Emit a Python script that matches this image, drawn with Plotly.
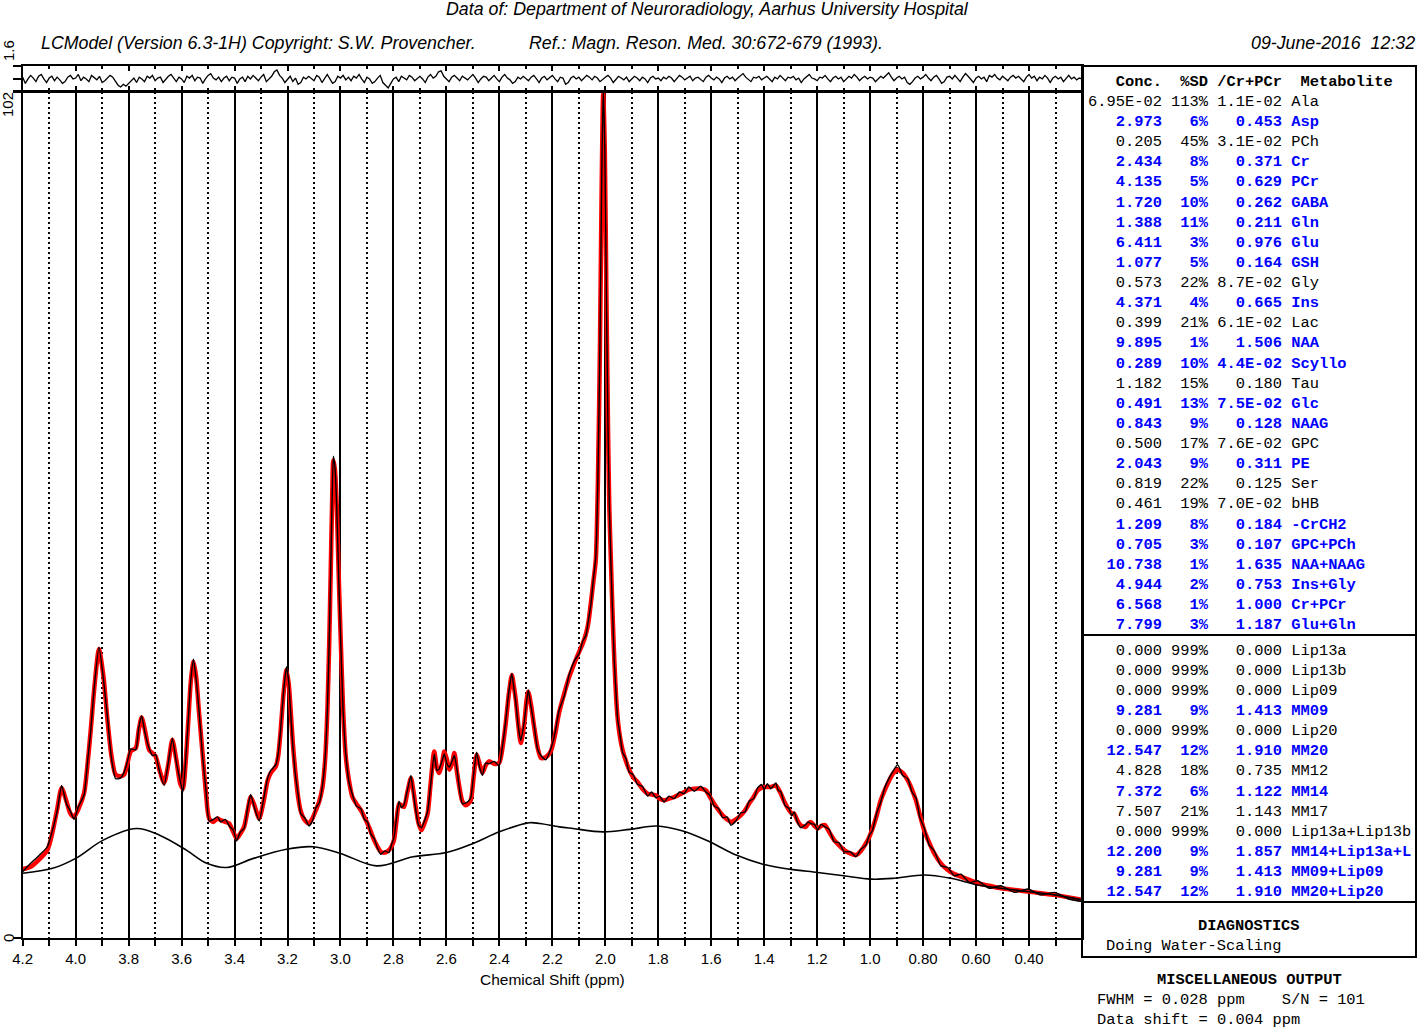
import numpy as np
import plotly.graph_objects as go

W, H = 1418, 1028

# ---------------- spectrum data (ppm, arbitrary units) ----------------
PPM = [
    4.20, 4.17, 4.14, 4.107, 4.09, 4.07, 4.053, 4.035, 4.02, 4.006,
    3.99, 3.968, 3.955, 3.943, 3.93, 3.912, 3.895, 3.88, 3.865, 3.849,
    3.83, 3.817, 3.805, 3.792, 3.773, 3.762, 3.751, 3.738, 3.723, 3.71,
    3.698, 3.683, 3.666, 3.65, 3.635, 3.62, 3.605, 3.595, 3.585, 3.575,
    3.565, 3.555, 3.545, 3.535, 3.521, 3.508, 3.496, 3.48, 3.465, 3.452,
    3.435, 3.42, 3.405, 3.392, 3.378, 3.364, 3.35, 3.339, 3.325, 3.307,
    3.29, 3.275, 3.263, 3.244, 3.235, 3.226, 3.215, 3.204, 3.195, 3.189,
    3.18, 3.17, 3.16, 3.15, 3.135, 3.119, 3.105, 3.093, 3.08, 3.068,
    3.058, 3.049, 3.043, 3.037, 3.032, 3.027, 3.021, 3.014, 3.007, 2.999,
    2.99, 2.98, 2.968, 2.955, 2.94, 2.923, 2.91, 2.898, 2.885, 2.873,
    2.86, 2.848, 2.832, 2.817, 2.808, 2.798, 2.789, 2.779, 2.77, 2.76,
    2.748, 2.734, 2.725, 2.716, 2.705, 2.694, 2.683, 2.671, 2.66, 2.646,
    2.636, 2.627, 2.617, 2.608, 2.598, 2.589, 2.579, 2.57, 2.56, 2.551,
    2.54, 2.527, 2.517, 2.508, 2.497, 2.486, 2.475, 2.464, 2.452, 2.439,
    2.42, 2.401, 2.388, 2.376, 2.364, 2.353, 2.346, 2.338, 2.328, 2.319,
    2.306, 2.298, 2.291, 2.28, 2.269, 2.256, 2.243, 2.225, 2.206, 2.19,
    2.175, 2.155, 2.136, 2.117, 2.099, 2.085, 2.073, 2.064, 2.055, 2.045,
    2.036, 2.028, 2.02, 2.014, 2.008, 2.002, 1.996, 1.99, 1.985, 1.979,
    1.972, 1.966, 1.96, 1.954, 1.945, 1.935, 1.922, 1.91, 1.895, 1.878,
    1.86, 1.84, 1.825, 1.809, 1.795, 1.778, 1.76, 1.74, 1.72, 1.702,
    1.685, 1.664, 1.64, 1.62, 1.605, 1.589, 1.572, 1.557, 1.54, 1.526,
    1.507, 1.488, 1.472, 1.457, 1.44, 1.425, 1.41, 1.4, 1.388, 1.375,
    1.356, 1.347, 1.337, 1.322, 1.306, 1.296, 1.287, 1.275, 1.262, 1.243,
    1.234, 1.224, 1.21, 1.198, 1.185, 1.171, 1.155, 1.136, 1.118, 1.098,
    1.075, 1.054, 1.035, 1.016, 1.003, 0.991, 0.975, 0.96, 0.944, 0.928,
    0.912, 0.896, 0.877, 0.858, 0.842, 0.827, 0.812, 0.796, 0.777, 0.758,
    0.733, 0.707, 0.682, 0.657, 0.625, 0.594, 0.55, 0.506, 0.455, 0.405,
    0.355, 0.304, 0.25, 0.2,
]

FIT = [
    8.3, 8.6, 9.4, 10.6, 12.4, 15.5, 18.1, 16.5, 15.0, 14.6,
    15.5, 17.5, 21.0, 25.1, 30.0, 34.8, 31.5, 26.3, 22.0, 19.7,
    19.5, 19.7, 21.0, 22.5, 22.9, 25.0, 26.6, 25.0, 22.7, 22.3,
    21.9, 20.2, 18.7, 21.0, 23.9, 21.5, 18.6, 18.0, 21.0, 26.0,
    31.0, 33.3, 31.5, 27.5, 22.3, 17.5, 14.4, 14.0, 14.4, 14.2,
    14.0, 13.8, 12.8, 12.0, 12.6, 13.4, 15.5, 17.0, 16.0, 14.4,
    16.5, 19.0, 19.9, 20.7, 22.0, 25.0, 29.5, 32.3, 30.5, 27.9,
    23.5, 19.9, 17.0, 15.3, 14.2, 13.8, 14.5, 15.4, 16.5, 18.2,
    21.5, 27.9, 35.0, 44.0, 52.0, 57.6, 56.5, 52.0, 44.0, 35.9,
    27.5, 21.9, 19.0, 17.0, 16.2, 15.4, 14.6, 13.8, 12.8, 11.8,
    11.0, 10.4, 10.3, 10.6, 11.0, 11.8, 14.0, 16.2, 16.0, 15.8,
    17.5, 19.3, 17.8, 15.8, 13.8, 13.0, 13.8, 15.0, 18.5, 22.5,
    20.5, 19.9, 21.0, 22.5, 21.5, 20.3, 21.0, 22.3, 20.0, 18.2,
    16.5, 16.0, 16.2, 16.6, 19.5, 22.1, 21.0, 19.9, 20.8, 21.3,
    21.0, 21.1, 23.0, 25.9, 29.5, 31.7, 30.5, 28.7, 25.5, 23.5,
    25.9, 28.5, 29.7, 28.0, 25.5, 23.0, 21.7, 21.8, 22.5, 24.5,
    27.1, 29.5, 31.5, 33.1, 34.5, 35.5, 36.7, 38.0, 40.3, 43.0,
    45.6, 55.0, 72.0, 90.0, 101.8, 95.0, 78.0, 62.0, 52.0, 45.6,
    38.5, 33.5, 29.5, 26.7, 24.3, 22.7, 21.3, 20.3, 19.4, 18.8,
    18.0, 17.4, 17.3, 17.2, 16.8, 16.6, 16.8, 17.0, 17.3, 17.6,
    17.9, 18.0, 18.0, 17.8, 17.0, 16.2, 15.4, 14.8, 14.3, 14.0,
    14.3, 14.8, 15.4, 16.2, 17.0, 17.8, 18.1, 18.2, 18.2, 18.2,
    18.4, 18.0, 17.4, 16.3, 15.4, 15.0, 15.0, 14.2, 13.6, 13.4,
    13.8, 14.0, 13.5, 13.2, 13.5, 13.6, 12.8, 11.8, 11.2, 10.6,
    10.2, 10.0, 10.5, 11.4, 12.2, 13.2, 14.8, 16.6, 17.9, 19.0,
    19.9, 20.3, 19.9, 19.0, 17.9, 16.6, 14.8, 13.0, 11.5, 10.2,
    9.0, 8.2, 7.7, 7.4, 7.0, 6.6, 6.3, 6.0, 5.8, 5.6,
    5.4, 5.2, 4.9, 4.6,
]

DATA = [
    8.0, 9.0, 9.9, 11.0, 12.7, 15.3, 18.4, 16.2, 15.3, 14.3,
    15.8, 17.3, 21.3, 25.0, 30.2, 35.1, 31.2, 26.6, 21.7, 19.2,
    19.3, 20.0, 21.2, 22.8, 22.7, 25.3, 26.8, 24.7, 22.9, 22.0,
    22.1, 20.0, 18.4, 21.2, 24.1, 21.2, 18.9, 17.6, 21.3, 26.2,
    31.2, 33.6, 31.2, 27.7, 22.0, 17.8, 14.1, 14.3, 14.6, 14.0,
    14.3, 13.5, 13.0, 11.7, 12.8, 13.2, 15.8, 17.3, 15.7, 14.1,
    16.8, 19.3, 20.2, 20.9, 22.3, 25.2, 29.7, 32.7, 30.7, 27.6,
    23.2, 19.6, 17.3, 15.0, 14.5, 13.5, 14.2, 15.7, 16.3, 18.4,
    21.7, 28.1, 35.3, 44.2, 52.4, 58.1, 56.8, 51.8, 43.7, 35.6,
    27.3, 22.2, 18.8, 17.3, 15.9, 15.6, 14.3, 14.0, 12.5, 12.0,
    10.8, 10.1, 10.5, 10.3, 11.2, 12.1, 14.3, 16.5, 15.7, 16.1,
    17.7, 19.6, 17.5, 15.5, 13.6, 13.3, 14.1, 15.3, 18.3, 22.2,
    20.2, 20.4, 21.3, 22.2, 21.0, 20.6, 21.3, 22.0, 20.3, 18.0,
    16.2, 16.3, 16.5, 16.9, 19.8, 22.4, 20.6, 19.6, 21.1, 21.0,
    21.3, 20.8, 23.2, 26.2, 29.8, 31.9, 30.3, 28.4, 25.3, 23.8,
    26.1, 28.3, 29.9, 27.8, 25.7, 22.8, 22.0, 21.5, 22.8, 24.7,
    27.4, 29.2, 31.8, 33.4, 34.3, 35.8, 36.5, 38.3, 40.1, 43.3,
    45.9, 55.3, 72.4, 90.3, 102.5, 95.3, 77.7, 61.8, 52.3, 45.3,
    38.7, 33.2, 29.8, 26.5, 24.6, 22.4, 21.6, 20.0, 19.7, 18.5,
    18.3, 17.1, 17.6, 16.9, 17.1, 16.4, 17.1, 16.8, 17.6, 17.4,
    18.2, 17.7, 18.3, 17.6, 17.2, 15.9, 15.6, 14.5, 14.6, 13.6,
    14.1, 15.1, 15.2, 16.5, 16.8, 18.1, 18.5, 17.9, 18.6, 18.0,
    18.7, 17.8, 17.6, 16.0, 15.6, 14.7, 15.2, 14.0, 13.3, 13.7,
    14.0, 13.8, 13.7, 13.0, 13.7, 13.4, 13.1, 11.6, 11.5, 10.4,
    10.4, 9.8, 10.7, 11.2, 12.4, 13.0, 15.1, 16.4, 18.2, 19.3,
    20.2, 20.9, 19.6, 19.2, 17.6, 16.9, 14.5, 13.3, 11.2, 10.5,
    8.7, 8.5, 7.5, 7.7, 6.7, 6.9, 6.0, 6.3, 5.5, 5.9,
    5.2, 5.5, 4.7, 4.4,
]

BASE_PPM = [4.2, 4.087, 4.0, 3.896, 3.771, 3.683, 3.582, 3.505, 3.43, 3.329,
            3.204, 3.104, 3.0, 2.864, 2.726, 2.6, 2.499, 2.4, 2.287, 2.247,
            2.174, 2.122, 2.009, 1.907, 1.807, 1.707, 1.606, 1.506, 1.405, 1.304,
            1.198, 1.1, 0.997, 0.909, 0.796, 0.695, 0.594, 0.506, 0.405, 0.305, 0.2]
BASELINE = [7.8, 8.4, 9.6, 11.8, 13.2, 12.4, 10.6, 9.0, 8.5, 9.6,
            10.7, 11.0, 10.2, 8.7, 9.8, 10.3, 11.4, 12.8, 13.9, 13.8,
            13.4, 13.2, 12.8, 13.1, 13.5, 12.9, 11.6, 10.0, 8.9, 8.3,
            7.9, 7.5, 7.1, 7.2, 7.6, 7.2, 6.4, 6.0, 5.6, 5.2, 4.6]

# residual (data - fit), sampled every 0.01 ppm from 4.20 to 0.20
RESID = [
    0.3, -0.4, 0.1, 0.5, 0.2, -0.2, 0.4, 0.6, 0.1, -0.3, 0.2, 0.4, -0.1, 0.3, 0.0, -0.4, -0.2, 0.3, 0.5, 0.1,
    0.2, 0.6, -0.1, 0.3, 0.1, -0.2, 0.5, 0.2, 0.0, 0.4, -0.3, -0.1, 0.2, 0.5, 0.3, -0.2, -0.6, -0.8, -0.5, -0.7,
    -0.4, -0.1, 0.2, -0.3, 0.3, 0.1, -0.2, 0.4, 0.2, 0.5, -0.1, 0.2, 0.3, -0.3, 0.1, 0.4, 0.6, 0.2, -0.2, 0.3,
    0.1, -0.3, 0.4, 0.2, 0.5, -0.1, 0.3, 0.2, -0.4, 0.1, 0.5, 0.7, 0.2, 0.0, 0.3, -0.2, 0.2, 0.4, -0.1, 0.3,
    0.2, -0.4, 0.1, 0.3, -0.2, 0.4, 0.1, 0.5, 0.2, -0.1, 0.3, 0.6, -0.2, 0.1, 0.4, 0.9, 1.1, 0.5, 0.2, -0.3,
    0.1, 0.4, -0.2, 0.2, -0.5, -0.3, 0.3, 0.1, 0.4, 0.2, -0.1, 0.5, 0.3, -0.3, 0.2, 0.6, 0.1, -0.4, -0.2, 0.4,
    0.2, 0.5, 0.0, 0.3, -0.1, 0.4, 0.2, 0.6, 0.1, -0.3, 0.3, 0.1, -0.4, -0.2, 0.2, 0.5, -0.3, -0.6, -0.9, -0.4,
    0.1, 0.3, -0.2, 0.4, 0.2, 0.0, 0.5, 0.3, -0.1, 0.2, 0.4, 0.1, -0.3, 0.3, 0.6, 0.2, 0.4, 0.9, 1.0, 0.4,
    0.1, -0.2, 0.3, 0.5, 0.2, -0.1, 0.4, 0.2, 0.0, 0.3, 0.6, 0.2, -0.3, 0.1, 0.4, 0.3, -0.1, 0.2, 0.5, 0.1,
    -0.2, 0.3, 0.6, 0.2, 0.0, -0.4, -0.2, 0.3, 0.1, 0.4, 0.2, -0.1, 0.3, 0.5, 0.1, -0.3, 0.2, 0.4, 0.0, 0.3,
    0.5, 0.1, -0.2, 0.3, 0.2, -0.5, -0.3, 0.2, 0.4, 0.1, 0.3, -0.1, 0.2, 0.5, 0.3, 0.0, 0.4, 0.2, -0.2, 0.1,
    0.3, 0.5, 0.2, -0.3, 0.1, 0.4, 0.2, 0.0, 0.3, -0.2, 0.1, 0.4, 0.2, -0.1, 0.3, 0.1, -0.3, 0.2, 0.4, 0.1,
    0.2, -0.1, 0.3, 0.1, 0.4, 0.2, -0.2, 0.1, 0.5, 0.3, 0.0, 0.2, 0.4, -0.1, 0.2, 0.3, 0.1, -0.2, 0.3, 0.5,
    0.2, 0.0, 0.3, 0.1, -0.3, 0.2, 0.4, 0.1, 0.3, -0.1, 0.2, 0.5, 0.7, 0.3, 0.1, -0.2, 0.3, 0.2, 0.4, 0.0,
    0.2, 0.4, 0.1, -0.2, 0.3, 0.1, 0.5, 0.2, -0.1, 0.3, 0.2, 0.4, 0.0, 0.2, -0.3, 0.1, 0.3, 0.6, 0.2, 0.1,
    -0.1, 0.3, 0.2, 0.5, 0.1, -0.2, 0.2, 0.4, 0.1, 0.3, -0.2, 0.1, 0.4, 0.2, 0.6, 0.3, -0.1, 0.2, 0.4, 0.1,
    0.3, 0.2, -0.2, 0.1, 0.4, 0.2, 0.5, 0.8, 0.3, -0.1, 0.2, 0.4, 0.1, 0.3, -0.3, -0.5, -0.2, 0.2, 0.4, 0.1,
    0.3, 0.6, 0.2, -0.1, 0.3, 0.5, 0.1, -0.4, -0.2, 0.3, 0.4, 0.1, 0.5, 0.2, -0.2, 0.3, 0.7, 0.4, 0.1, -0.3,
    0.2, 0.4, 0.1, 0.3, -0.2, 0.5, 0.3, 0.6, 0.2, 0.0, 0.4, 0.2, -0.1, 0.3, 0.5, 0.2, 0.4, 0.1, -0.2, 0.3,
    0.6, 0.2, 0.4, -0.1, 0.3, 0.1, 0.5, 0.2, -0.3, 0.2, 0.4, 0.1, 0.3, -0.2, 0.2, 0.5, 0.1, 0.3, 0.0, 0.2,
    0.1,
]
RESID_PPM = np.round(np.linspace(4.2, 0.2, len(RESID)), 3)

# ---------------- axis ticks ----------------
MAJOR_TICKS = [4.2, 4.0, 3.8, 3.6, 3.4, 3.2, 3.0, 2.8, 2.6, 2.4, 2.2, 2.0,
               1.8, 1.6, 1.4, 1.2, 1.0, 0.8, 0.6, 0.4]
TICK_LABELS = ["4.2", "4.0", "3.8", "3.6", "3.4", "3.2", "3.0", "2.8", "2.6", "2.4",
               "2.2", "2.0", "1.8", "1.6", "1.4", "1.2", "1.0", "0.80", "0.60", "0.40"]
MINOR_TICKS = [4.1, 3.9, 3.7, 3.5, 3.3, 3.1, 2.9, 2.7, 2.5, 2.3, 2.1, 1.9,
               1.7, 1.5, 1.3, 1.1, 0.9, 0.7, 0.5, 0.3]

# ---------------- table ----------------
MET_NAMES = ["Ala", "Asp", "PCh", "Cr", "PCr", "GABA", "Gln", "Glu", "GSH", "Gly",
             "Ins", "Lac", "NAA", "Scyllo", "Tau", "Glc", "NAAG", "GPC", "PE", "Ser",
             "bHB", "-CrCH2", "GPC+PCh", "NAA+NAAG", "Ins+Gly", "Cr+PCr", "Glu+Gln"]
MET_CONC = ["6.95E-02", "2.973", "0.205", "2.434", "4.135", "1.720", "1.388", "6.411", "1.077", "0.573",
            "4.371", "0.399", "9.895", "0.289", "1.182", "0.491", "0.843", "0.500", "2.043", "0.819",
            "0.461", "1.209", "0.705", "10.738", "4.944", "6.568", "7.799"]
MET_SD = ["113%", "6%", "45%", "8%", "5%", "10%", "11%", "3%", "5%", "22%",
          "4%", "21%", "1%", "10%", "15%", "13%", "9%", "17%", "9%", "22%",
          "19%", "8%", "3%", "1%", "2%", "1%", "3%"]
MET_RATIO = ["1.1E-02", "0.453", "3.1E-02", "0.371", "0.629", "0.262", "0.211", "0.976", "0.164", "8.7E-02",
             "0.665", "6.1E-02", "1.506", "4.4E-02", "0.180", "7.5E-02", "0.128", "7.6E-02", "0.311", "0.125",
             "7.0E-02", "0.184", "0.107", "1.635", "0.753", "1.000", "1.187"]
MET_BLUE = [0, 1, 0, 1, 1, 1, 1, 1, 1, 0,
            1, 0, 1, 1, 0, 1, 1, 0, 1, 0,
            0, 1, 1, 1, 1, 1, 1]

LIP_NAMES = ["Lip13a", "Lip13b", "Lip09", "MM09", "Lip20", "MM20", "MM12", "MM14", "MM17",
             "Lip13a+Lip13b", "MM14+Lip13a+L", "MM09+Lip09", "MM20+Lip20"]
LIP_CONC = ["0.000", "0.000", "0.000", "9.281", "0.000", "12.547", "4.828", "7.372", "7.507",
            "0.000", "12.200", "9.281", "12.547"]
LIP_SD = ["999%", "999%", "999%", "9%", "999%", "12%", "18%", "6%", "21%",
          "999%", "9%", "9%", "12%"]
LIP_RATIO = ["0.000", "0.000", "0.000", "1.413", "0.000", "1.910", "0.735", "1.122", "1.143",
             "0.000", "1.857", "1.413", "1.910"]
LIP_BLUE = [0, 0, 0, 1, 0, 1, 0, 1, 0, 0, 1, 1, 1]


def px(x):
    return x / W


def py(y):
    return 1 - y / H


fig = go.Figure()

fig.add_trace(go.Scatter(x=PPM, y=FIT, mode="lines",
                         line=dict(color="#ff0000", width=4.5, shape="spline", smoothing=0.7),
                         xaxis="x", yaxis="y", hoverinfo="skip"))
fig.add_trace(go.Scatter(x=BASE_PPM, y=BASELINE, mode="lines",
                         line=dict(color="black", width=1.6, shape="spline", smoothing=1.0),
                         xaxis="x", yaxis="y", hoverinfo="skip"))
fig.add_trace(go.Scatter(x=PPM, y=DATA, mode="lines",
                         line=dict(color="black", width=1.4, shape="spline", smoothing=0.5),
                         xaxis="x", yaxis="y", hoverinfo="skip"))
fig.add_trace(go.Scatter(x=RESID_PPM, y=RESID, mode="lines", line=dict(color="black", width=1.3),
                         xaxis="x2", yaxis="y2", hoverinfo="skip"))

XL, XR = 22.7, 1082
MAIN_TOP, MAIN_BOT = 92, 938
RES_TOP, RES_BOT = 66, 91

fig.update_layout(
    width=W, height=H, autosize=False,
    margin=dict(l=0, r=0, t=0, b=0, pad=0, autoexpand=False),
    paper_bgcolor="white", plot_bgcolor="white",
    showlegend=False,
    xaxis=dict(
        domain=[px(XL), px(XR)], range=[4.2, 0.2], anchor="y", automargin=False,
        tickmode="array", tickvals=MAJOR_TICKS, ticktext=TICK_LABELS,
        ticks="outside", ticklen=6, tickwidth=2, tickcolor="black",
        tickfont=dict(family="Liberation Sans", size=15, color="black"),
        showgrid=True, gridcolor="black", gridwidth=2,
        showline=True, linecolor="black", linewidth=2, mirror=True,
        zeroline=False, fixedrange=True,
        minor=dict(tickmode="array", tickvals=MINOR_TICKS, ticks="outside", ticklen=6,
                   tickwidth=2, tickcolor="black", showgrid=True, gridcolor="black",
                   gridwidth=2, griddash="2px,3px"),
    ),
    yaxis=dict(
        domain=[py(MAIN_BOT), py(MAIN_TOP)], range=[0, 102], anchor="x", automargin=False,
        tickmode="array", tickvals=[0, 102], showticklabels=False,
        ticks="outside", ticklen=8, tickwidth=2, tickcolor="black",
        showgrid=False, zeroline=False,
        showline=True, linecolor="black", linewidth=2, mirror=True, fixedrange=True,
    ),
    xaxis2=dict(
        domain=[px(XL), px(XR)], range=[4.2, 0.2], anchor="y2", automargin=False,
        tickmode="array", tickvals=MAJOR_TICKS, showticklabels=False,
        ticks="inside", ticklen=5, tickwidth=2, tickcolor="black",
        showgrid=False, zeroline=False,
        showline=True, linecolor="black", linewidth=2, mirror="ticks", fixedrange=True,
        minor=dict(tickmode="array", tickvals=MINOR_TICKS, ticks="inside", ticklen=3,
                   tickwidth=2, tickcolor="black", showgrid=False),
    ),
    yaxis2=dict(
        domain=[py(RES_BOT), py(RES_TOP)], range=[-1.25, 1.55], anchor="x2", automargin=False,
        tickmode="array", tickvals=[-1.25, 0.15, 1.55], showticklabels=False,
        ticks="outside", ticklen=8, tickwidth=2, tickcolor="black",
        showgrid=False, zeroline=False,
        showline=True, linecolor="black", linewidth=2, mirror=True, fixedrange=True,
    ),
)

# ---------------- table boxes ----------------
TB_L, TB_R, TB_T, TB_B = 1082, 1416, 66, 957
shapes = [
    dict(type="rect", xref="paper", yref="paper", x0=px(TB_L), x1=px(TB_R), y0=py(TB_B), y1=py(TB_T),
         line=dict(color="black", width=2)),
    dict(type="line", xref="paper", yref="paper", x0=px(TB_L), x1=px(TB_R), y0=py(635), y1=py(635),
         line=dict(color="black", width=2)),
    dict(type="line", xref="paper", yref="paper", x0=px(TB_L), x1=px(TB_R), y0=py(902), y1=py(902),
         line=dict(color="black", width=2)),
]
fig.update_layout(shapes=shapes)

annotations = []
NB = "\u00a0"


def add_text(text, x, y, size=15.4, family="Liberation Mono", color="black",
             xanchor="left", angle=0):
    annotations.append(dict(text=text, x=px(x), y=py(y), xref="paper", yref="paper",
                            xanchor=xanchor, yanchor="middle", showarrow=False,
                            textangle=angle, borderpad=0,
                            font=dict(family=family, size=size, color=color)))


def row_string(conc, sd, ratio, name):
    s = f"{conc:>8} {sd:>4} {ratio:>7} {name}"
    return s.replace(" ", NB)


SANS = "Liberation Sans"
add_text("<i>Data of: Department of Neuroradiology, Aarhus University Hospital</i>", 707, 9.5,
         size=17.8, family=SANS, xanchor="center")
add_text("<i>LCModel (Version 6.3-1H) Copyright: S.W. Provencher.</i>", 40, 43, size=17.8, family=SANS)
add_text("<i>Ref.: Magn. Reson. Med. 30:672-679 (1993).</i>", 528, 43, size=17.8, family=SANS)
add_text("<i>09-June-2016" + NB * 2 + "12:32</i>", 1416, 43, size=17.8, family=SANS, xanchor="right")

add_text("Chemical Shift (ppm)", 552, 979, size=15.5, family=SANS, xanchor="center")
add_text("0", 8, 938, size=15, family=SANS, xanchor="center", angle=-90)
add_text("102", 8, 105, size=15, family=SANS, xanchor="center", angle=-90)
add_text("1.6", 8, 51, size=15, family=SANS, xanchor="center", angle=-90)

TX = 1086.5
hdr = (NB * 3 + "Conc." + NB * 2 + "%SD" + NB + "/Cr+PCr" + NB * 2 + "Metabolite")
add_text("<b>" + hdr + "</b>", TX, 82)
for i, name in enumerate(MET_NAMES):
    s = row_string(MET_CONC[i], MET_SD[i], MET_RATIO[i], name)
    if MET_BLUE[i]:
        add_text("<b>" + s + "</b>", TX, 102 + 20.12 * i, color="#0000ff")
    else:
        add_text(s, TX, 102 + 20.12 * i)
for i, name in enumerate(LIP_NAMES):
    s = row_string(LIP_CONC[i], LIP_SD[i], LIP_RATIO[i], name)
    if LIP_BLUE[i]:
        add_text("<b>" + s + "</b>", TX, 651 + 20.08 * i, color="#0000ff")
    else:
        add_text(s, TX, 651 + 20.08 * i)

add_text("<b>DIAGNOSTICS</b>", 1249, 926, xanchor="center")
add_text("Doing" + NB + "Water-Scaling", 1105, 946)
add_text("<b>MISCELLANEOUS" + NB + "OUTPUT</b>", 1249, 980, xanchor="center")
add_text(("FWHM = 0.028 ppm    S/N = 101").replace(" ", NB), 1096, 1000)
add_text(("Data shift = 0.004 ppm").replace(" ", NB), 1096, 1019.5)

fig.update_layout(annotations=annotations)

fig.write_html(
    "out.html",
    config={"displayModeBar": False, "staticPlot": True},
    post_script="document.body.style.margin='0';document.body.style.overflow='hidden';"
                "document.documentElement.style.overflow='hidden';",
)
